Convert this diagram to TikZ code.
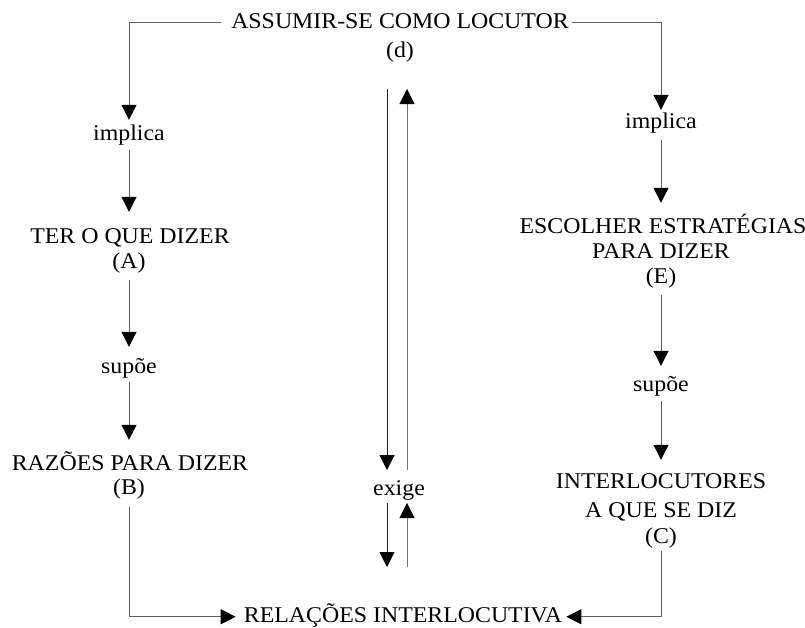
\documentclass[tikz,border=0pt]{standalone}
\usepackage{fontspec}
\setmainfont{Liberation Serif}[FakeStretch=1.06]
\usetikzlibrary{arrows.meta}
\begin{document}
\begin{tikzpicture}[x=1pt,y=-1pt,
  lbl/.style={font=\fontsize{22.5}{27}\selectfont, anchor=base, inner xsep=3pt, inner ysep=3pt,
              text height=15pt, text depth=4.5pt},
  con/.style={draw=black!62, line width=1pt},
  arr/.style={con, -{Triangle[width=15pt,length=15pt,color=black]}}]
\useasboundingbox (0,0) rectangle (805,627);
% top
\node[lbl] (d) at (400,28) {ASSUMIR-SE COMO LOCUTOR};
\node[lbl] (dd) at (400,57) {(d)};
% left column
\node[lbl] (il) at (129,140) {implica};
\node[lbl] (A) at (130,243) {TER O QUE DIZER};
\node[lbl] (A2) at (129,268) {(A)};
\node[lbl] (sl) at (129,373) {supõe};
\node[lbl] (B) at (130,470) {RAZÕES PARA DIZER};
\node[lbl] (B2) at (129,494) {(B)};
% right column
\node[lbl] (ir) at (661,128) {implica};
\node[lbl] (E) at (663,233) {ESCOLHER ESTRATÉGIAS};
\node[lbl] (E2) at (661,258) {PARA DIZER};
\node[lbl] (E3) at (661,283) {(E)};
\node[lbl] (sr) at (661,391) {supõe};
\node[lbl] (C) at (661,488) {INTERLOCUTORES};
\node[lbl] (C2) at (661,517) {A QUE SE DIZ};
\node[lbl] (C3) at (661,543) {(C)};
% bottom
\node[lbl] (R) at (403,622) {RELAÇÕES INTERLOCUTIVA};
% middle
\node[lbl] (ex) at (399,495) {exige};
\coordinate (a1) at (387,89);
\coordinate (a2) at (387,470);
\coordinate (a3) at (387,503);
\coordinate (a4) at (387,567);
\coordinate (b1) at (407,89);
\coordinate (b2) at (407,470);
\coordinate (b3) at (407,503);
\coordinate (b4) at (407,567);
% connectors
\draw[arr, shorten <=7pt, shorten >=2pt] (d.west) -| (il.north);
\draw[arr, shorten <=2.5pt, shorten >=13pt] (il.south) -- (A.north -| il.south);
\draw[arr, shorten <=4.5pt, shorten >=8pt] (A2.south) -- (sl.north);
\draw[arr, shorten <=1.5pt, shorten >=12pt] (sl.south) -- (B.north -| sl.south);
\draw[arr, shorten <=5.5pt, shorten >=5pt] (B2.south) |- (R.west);
\draw[arr] (d.east) -| (ir.north);
\draw[arr, shorten <=4.5pt, shorten >=12pt] (ir.south) -- (E.north -| ir.south);
\draw[arr, shorten <=4.5pt, shorten >=7pt] (E3.south) -- (sr.north);
\draw[arr, shorten <=2pt, shorten >=10pt] (sr.south) -- (C.north);
\draw[arr, shorten >=1pt] (C3.south) |- (R.east);
\draw[arr, draw=black!88] (a1) -- (a2);
\draw[arr, draw=black!88] (a3) -- (a4);
\draw[arr, draw=black!55] (b2) -- (b1);
\draw[arr, draw=black!55] (b4) -- (b3);
\end{tikzpicture}
\end{document}
